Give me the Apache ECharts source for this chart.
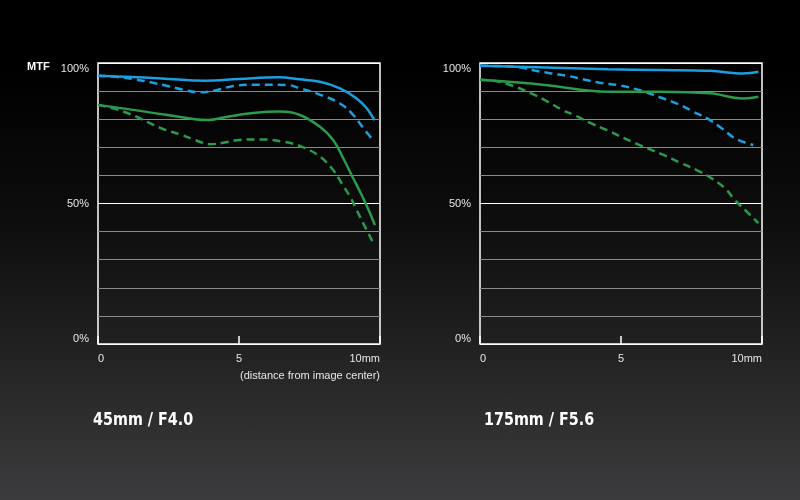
<!DOCTYPE html>
<html>
<head>
<meta charset="utf-8">
<script src="https://cdn.jsdelivr.net/npm/echarts@6/dist/echarts.min.js"></script>
<style>
html, body {
  margin: 0;
  padding: 0;
}

body {
  width: 800px;
  height: 500px;
  background: linear-gradient(to bottom, #000 0%, #000 14%, #0e0e0f 45%, #262627 75%, #3c3c3e 100%);
}

#chart {
  width: 800px;
  height: 500px;
}
</style>
</head>
<body>
<div id="chart"></div>
<script>
// 45mm / F4.0  [distance mm, MTF %]
const wideBlueSolid = [[0, 95.5], [1, 95.1], [2.26, 94.5], [3.8, 93.7], [5, 94.3], [6.4, 94.9], [7.16, 94.2], [7.87, 93.3], [8.58, 91.0], [9.17, 87.4], [9.53, 83.9], [9.8, 79.7]]
const wideBlueDash = [[0, 95.5], [0.6, 95.1], [1.31, 94.2], [2.43, 91.9], [2.97, 90.6], [3.62, 89.6], [4.15, 90.2], [4.8, 91.8], [5.7, 92.3], [6.7, 92.2], [7.16, 91.0], [7.75, 89.2], [8.58, 85.6], [9.05, 81.5], [9.41, 76.8], [9.8, 72.0]]
const wideGreenSolid = [[0, 85.1], [1.67, 82.7], [3.44, 80.0], [3.91, 79.7], [4.5, 80.7], [5.5, 82.2], [6.45, 82.7], [7.16, 81.5], [7.87, 77.3], [8.34, 72.6], [8.7, 66.0], [9.05, 59.0], [9.35, 53.0], [9.6, 47.6], [9.82, 42.3]]
const wideGreenDash = [[0, 85.1], [0.72, 83.3], [1.31, 81.1], [2.26, 76.7], [2.97, 74.4], [3.44, 72.6], [3.97, 71.1], [4.44, 71.6], [5.0, 72.6], [5.74, 72.8], [6.57, 72.0], [7.28, 70.0], [7.87, 66.7], [8.34, 61.9], [8.64, 57.2], [8.94, 52.4], [9.17, 47.7], [9.47, 41.7], [9.76, 36.0]]

// 175mm / F5.6
const teleBlueSolid = [[0, 99.0], [2, 98.5], [4.54, 97.8], [6.38, 97.5], [8.16, 97.2], [9.34, 96.3], [9.87, 96.9]]
const teleBlueDash = [[0, 99.0], [0.7, 98.9], [1.35, 98.5], [1.94, 97.3], [2.53, 96.3], [3.12, 95.4], [3.65, 94.2], [4.24, 93.0], [4.96, 92.0], [5.7, 90.2], [6.38, 87.8], [7.09, 85.1], [7.56, 82.7], [8.1, 80.0], [8.57, 76.8], [9.04, 73.2], [9.69, 70.8]]
const teleGreenSolid = [[0, 94.0], [2.29, 92.2], [4.54, 89.8], [6.38, 89.8], [8.16, 89.2], [9.34, 87.4], [9.87, 88.0]]
const teleGreenDash = [[0, 94.0], [0.6, 93.5], [1.23, 91.6], [1.82, 89.2], [2.41, 86.2], [2.88, 83.5], [3.42, 81.1], [3.95, 78.5], [4.48, 76.2], [5.56, 71.2], [6.5, 67.3], [7.15, 64.3], [7.68, 61.9], [8.16, 59.3], [8.69, 55.4], [9.04, 51.2], [9.46, 47.1], [9.87, 43.0]]

const xTicks = [0, 5, 10]
const yTicks = [0, 50, 100]
const titles = ['45mm / F4.0', '175mm / F5.6']

const BLUE = '#1a9fe0'
const GREEN = '#2c9a4b'
const gridGray = '#8a8a8a'
const labelFont = 'Arial, "Liberation Sans", sans-serif'
const titleFont = 'bold 18px "DejaVu Sans Condensed", "DejaVu Sans", sans-serif'

const chart = echarts.init(document.getElementById('chart'))

function makeXAxis(gridIndex) {
  return {
    type: 'value',
    gridIndex,
    min: 0,
    max: 10,
    interval: 5,
    axisLine: { show: false },
    axisTick: {
      inside: true,
      length: 8,
      lineStyle: { color: '#fff', width: 1.5 }
    },
    splitLine: { show: false },
    axisLabel: {
      color: '#e6e6e6',
      fontSize: 11,
      fontFamily: labelFont,
      margin: 9,
      alignMinLabel: 'left',
      alignMaxLabel: 'right',
      formatter: v => xTicks.indexOf(v) < 0 ? '' : (v === 10 ? '10mm' : String(v))
    }
  }
}

function makeYAxis(gridIndex) {
  // 50% line is white, the rest gray
  const colors = []
  for (let i = 0; i < 10; i++) colors.push(i % 5 === 0 ? '#fff' : gridGray)
  return {
    type: 'value',
    gridIndex,
    min: 0,
    max: 100,
    interval: 10,
    axisLine: { show: false },
    axisTick: { show: false },
    splitLine: {
      lineStyle: { color: colors, width: 1 }
    },
    axisLabel: {
      color: '#e6e6e6',
      fontSize: 11,
      fontFamily: labelFont,
      margin: 9,
      verticalAlignMinLabel: 'bottom',
      verticalAlignMaxLabel: 'top',
      formatter: v => yTicks.indexOf(v) < 0 ? '' : v + '%'
    }
  }
}

function line(idx, data, color, dashed) {
  return {
    type: 'line',
    xAxisIndex: idx,
    yAxisIndex: idx,
    data,
    smooth: 0.4,
    showSymbol: false,
    silent: true,
    lineStyle: {
      color,
      width: 2.5,
      type: dashed ? [8, 5] : 'solid'
    }
  }
}

function title(left, text) {
  return {
    type: 'text',
    x: left,
    y: 411,
    scaleX: 0.885,
    style: { text, fill: '#fff', font: titleFont }
  }
}

const option = {
  animation: false,
  grid: [
    { left: 98, top: 63, width: 282, height: 281, show: true, borderColor: '#fff', borderWidth: 1.5, backgroundColor: 'transparent' },
    { left: 480, top: 63, width: 282, height: 281, show: true, borderColor: '#fff', borderWidth: 1.5, backgroundColor: 'transparent' }
  ],
  xAxis: [makeXAxis(0), makeXAxis(1)],
  yAxis: [makeYAxis(0), makeYAxis(1)],
  series: [
    line(0, wideGreenDash, GREEN, true),
    line(0, wideBlueDash, BLUE, true),
    line(0, wideGreenSolid, GREEN, false),
    line(0, wideBlueSolid, BLUE, false),
    line(1, teleGreenDash, GREEN, true),
    line(1, teleBlueDash, BLUE, true),
    line(1, teleGreenSolid, GREEN, false),
    line(1, teleBlueSolid, BLUE, false)
  ],
  graphic: [
    {
      type: 'text',
      left: 27,
      top: 61,
      style: { text: 'MTF', fill: '#fff', font: 'bold 11px ' + labelFont }
    },
    {
      type: 'text',
      right: 420,
      top: 370,
      style: { text: '(distance from image center)', fill: '#e6e6e6', font: '11px ' + labelFont }
    },
    title(93, titles[0]),
    title(484, titles[1])
  ]
}

chart.setOption(option)
window.addEventListener('resize', () => chart.resize())
</script>
</body>
</html>
